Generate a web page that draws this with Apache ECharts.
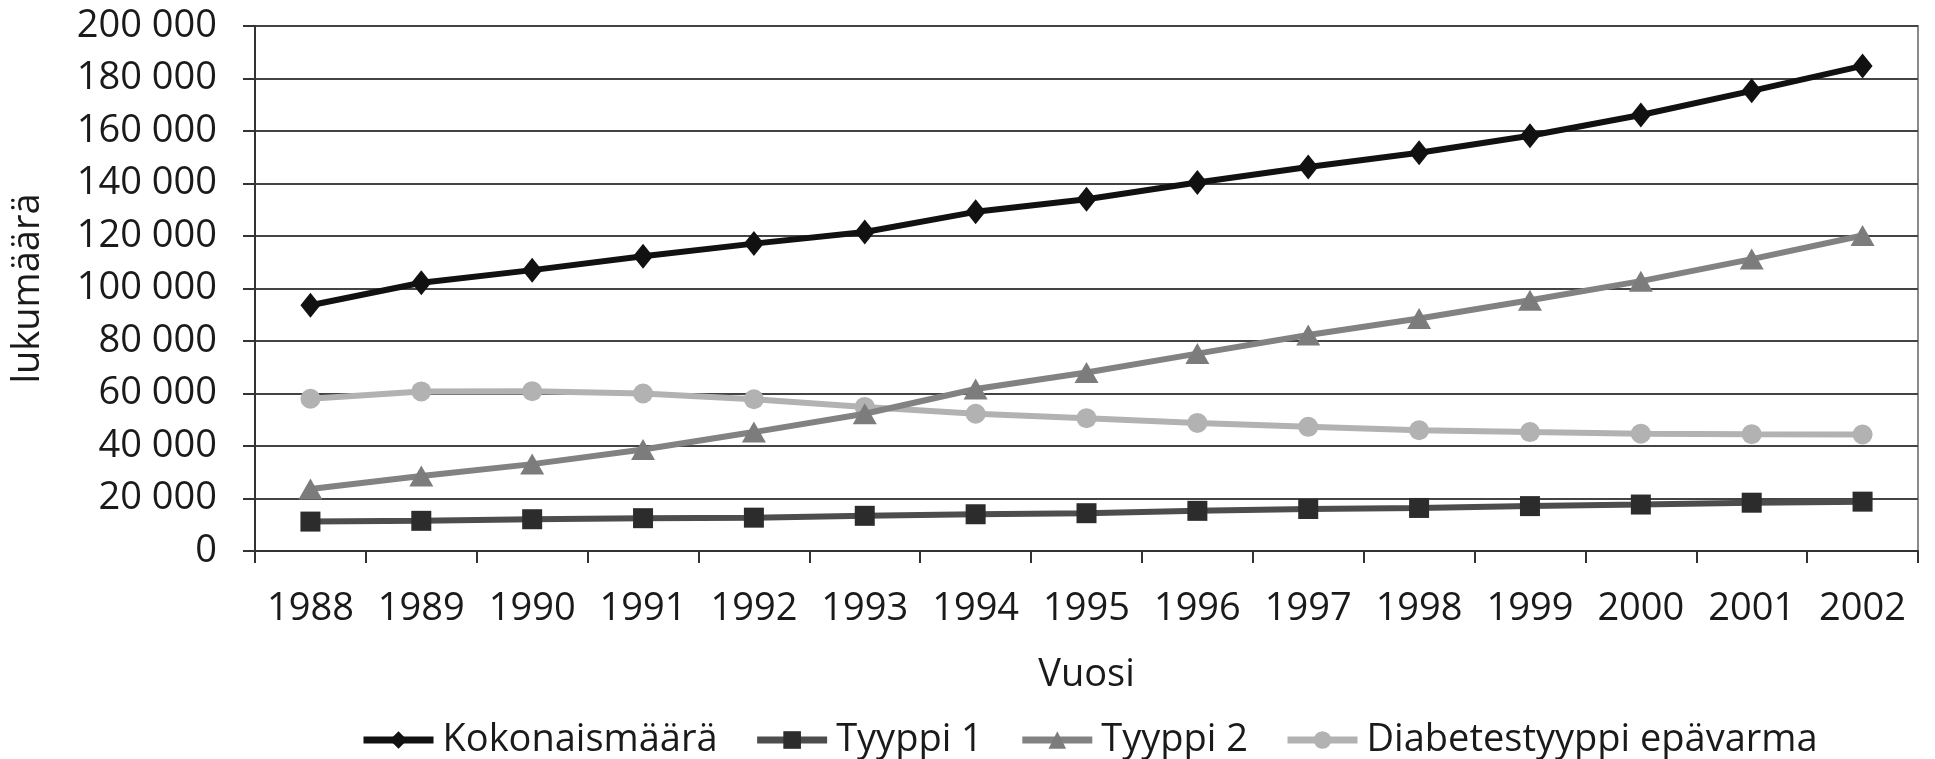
<!DOCTYPE html>
<html>
<head>
<meta charset="utf-8">
<script src="https://cdn.jsdelivr.net/npm/echarts@6/dist/echarts.min.js"></script>
<style>
html,body{margin:0;padding:0;background:#fff;}
#c{width:1935px;height:759px;}
</style>
</head>
<body>
<div id="c"></div>
<script>
const years = ['1988','1989','1990','1991','1992','1993','1994','1995','1996','1997','1998','1999','2000','2001','2002'];
const kokonaismaara = [93600,102200,107000,112300,117100,121500,129200,134000,140400,146300,151700,158200,166100,175300,184800];
const tyyppi1 = [11200,11500,12100,12500,12700,13400,14000,14400,15300,16000,16400,17100,17700,18400,18800];
const tyyppi2 = [23600,28600,33100,38700,45300,52300,61700,68000,75200,82300,88600,95500,102800,111200,120200];
const epavarma = [58000,60800,60900,60000,57800,54900,52300,50600,48800,47300,46000,45300,44700,44500,44400];
const seriesNames = ['Kokonaismäärä','Tyyppi 1','Tyyppi 2','Diabetestyyppi epävarma'];

const FONT = '"Open Sans", "Noto Sans", sans-serif';
const chart = echarts.init(document.getElementById('c'), null, {renderer:'canvas'});
function fmt(v){ return String(v).replace(/\B(?=(\d{3})+(?!\d))/g, ' '); }

chart.setOption({
  animation:false,
  backgroundColor:'#fff',
  textStyle:{fontFamily:FONT},
  grid:{left:255, right:17, top:26, bottom:208, show:true, borderColor:'#8a8a8a', borderWidth:2, containLabel:false},
  legend:{
    top:721, left:360, padding:0,
    itemWidth:70, itemHeight:22, itemGap:36,
    lineStyle:{width:7},
    textStyle:{fontFamily:FONT, fontSize:38, color:'#1a1a1a', padding:[0,0,0,4]},
    data:seriesNames
  },
  xAxis:{
    type:'category', data:years, boundaryGap:true,
    name:'Vuosi', nameLocation:'middle', nameGap:105,
    nameTextStyle:{fontFamily:FONT, fontSize:38, color:'#1a1a1a'},
    axisLine:{show:true, lineStyle:{color:'#333', width:2}},
    axisTick:{show:true, interval:0, length:12, inside:false, lineStyle:{color:'#333', width:2}},
    axisLabel:{interval:0, hideOverlap:false, margin:39, fontFamily:FONT, fontSize:38, color:'#1a1a1a'},
    splitLine:{show:false}
  },
  yAxis:{
    type:'value', min:0, max:200000, interval:20000,
    name:'lukumäärä', nameLocation:'middle', nameGap:208, nameRotate:90,
    nameTextStyle:{fontFamily:FONT, fontSize:38, color:'#1a1a1a'},
    axisLine:{show:true, lineStyle:{color:'#333', width:2}},
    axisTick:{show:true, length:12, lineStyle:{color:'#333', width:2}},
    axisLabel:{margin:38, fontFamily:FONT, fontSize:38, color:'#1a1a1a', formatter:fmt},
    splitLine:{show:true, lineStyle:{color:'#444', width:2}}
  },
  series:[
    {name:seriesNames[0], type:'line', data:kokonaismaara, symbol:'diamond', symbolSize:[20,25],
     lineStyle:{color:'#111', width:6}, itemStyle:{color:'#111'}, z:5},
    {name:seriesNames[1], type:'line', data:tyyppi1, symbol:'rect', symbolSize:20,
     lineStyle:{color:'#4d4d4d', width:6}, itemStyle:{color:'#2c2c2c'}, z:4},
    {name:seriesNames[2], type:'line', data:tyyppi2, symbol:'triangle', symbolSize:[24,21],
     lineStyle:{color:'#828282', width:6}, itemStyle:{color:'#7c7c7c'}, z:3},
    {name:seriesNames[3], type:'line', data:epavarma, symbol:'circle', symbolSize:20,
     lineStyle:{color:'#b2b2b2', width:6}, itemStyle:{color:'#b2b2b2'}, z:2}
  ]
});
</script>
</body>
</html>
